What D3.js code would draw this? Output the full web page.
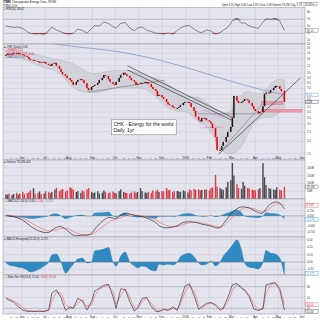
<!DOCTYPE html>
<html>
<head>
<meta charset="utf-8">
<script src="https://cdn.jsdelivr.net/npm/d3@7/dist/d3.min.js"></script>
<style>
  body { margin: 0; background: #fff; }
  svg { display: block; font-family: Arial, "Liberation Sans", sans-serif; }
</style>
</head>
<body>
<div id="chart"></div>
<script>
// closes every 2 trading days from 11-May-2015 to 9-May-2016
var closes = [15.4, 15.8, 15.4, 15.8, 16.2, 15.8, 16.2, 15.8, 15.4, 15.1, 14.7,
  14.0, 13.7, 13.7, 13.4, 13.1, 13.1, 12.8, 13.1, 12.5, 12.2,
  11.9, 12.5, 12.8, 11.9, 11.1, 10.3, 9.8, 9.4, 8.95, 8.5,
  8.15, 7.6, 8.15, 8.5, 8.7, 8.5, 7.95, 7.07, 6.7, 7.25,
  7.4, 7.6, 7.95, 8.5, 8.95, 9.6, 9.4, 8.7, 8.15, 7.8,
  7.6, 8.15, 8.95, 9.6, 10.1, 9.8, 9.4, 8.95, 8.5, 8.15,
  7.6, 7.8, 7.95, 7.95, 8.15, 8.15, 7.8, 7.25, 6.9, 6.6,
  5.85, 6.0, 5.7, 5.45, 5.08, 4.8, 4.7, 4.5, 4.4, 4.4,
  4.5, 4.7, 4.96, 5.08, 5.08, 4.96, 4.5, 4.1, 3.6, 3.3,
  3.2, 3.48, 3.48, 3.3, 3.2, 3.05, 2.75, 2.22, 1.63, 1.63,
  1.8, 1.97, 2.22, 2.5, 2.81, 3.48, 5.85, 5.2, 4.96, 5.08,
  5.2, 5.45, 5.3, 4.96, 4.6, 4.3, 4.1, 3.9, 4.0, 4.6,
  6.15, 6.3, 6.3, 6.7, 7.07, 7.4, 7.4, 6.9, 6.6, 5.08];

// volume (millions), same dates as closes
var volumes = [30, 28, 35, 25, 32, 40, 28, 35, 45, 30, 38,
  42, 55, 70, 35, 40, 48, 30, 36, 50, 44,
  38, 45, 60, 72, 50, 58, 65, 48, 55, 75,
  68, 60, 45, 50, 40, 55, 48, 62, 70, 45,
  38, 42, 50, 35, 40, 55, 45, 38, 42, 48,
  40, 36, 50, 62, 45, 40, 38, 35, 42, 48,
  40, 45, 70, 50, 42, 38, 45, 40, 55, 48,
  60, 45, 50, 48, 70, 55, 58, 45, 50, 52,
  48, 45, 55, 50, 42, 60, 55, 65, 58, 62,
  55, 58, 60, 62, 55, 70, 75, 154, 80, 70,
  62, 58, 75, 110, 120, 230, 150, 95, 70, 65,
  110, 85, 72, 68, 60, 58, 55, 62, 70, 230,
  140, 90, 70, 65, 62, 58, 75, 60, 55, 78];

// Bollinger bands, every 10 trading days
var bandUpper = [16.9, 16.9, 16.5, 15.4, 14.4, 13.7, 13.1, 11.3, 9.6, 10.3, 10.6, 10.8, 10.6, 9.4,
  8.95, 8.15, 6.4, 5.6, 5.85, 4.7, 4.0, 3.7, 6.7, 6.4, 5.85, 8.95, 8.5];
var bandLower = [14.4, 14.7, 13.7, 11.9, 11.1, 10.3, 7.4, 6.4, 6.3, 6.4, 7.07, 7.07, 7.07, 7.07,
  5.85, 4.4, 4.0, 4.2, 3.0, 2.9, 1.55, 1.45, 1.63, 3.16, 3.6, 3.48, 4.4];

// long moving average, every 20 trading days
var maLong = [23.0, 21.8, 20.4, 19.0, 18.0, 17.0, 15.6, 14.0, 12.2, 10.5, 8.9, 7.7, 6.7, 6.0];

// indicators every 4 trading days
var rsi = [51, 49, 47, 48, 44, 34, 30, 28, 29, 27, 37, 48, 39, 34, 29, 28, 30, 42, 38, 30,
  44, 52, 51, 62, 58, 49, 45, 58, 61, 45, 37, 45, 48, 39, 35, 30, 30, 28, 31, 28,
  38, 45, 51, 52, 42, 34, 32, 39, 37, 28, 32, 39, 47, 66, 72, 59, 60, 51, 47, 44,
  62, 71, 70, 72, 65, 38];
var macdLine = [0.02, 0.0, -0.03, -0.10, -0.19, -0.36, -0.50, -0.62, -0.74, -0.79,
  -0.81, -0.67, -0.53, -0.48, -0.62, -0.81, -0.93, -0.95, -0.90, -0.93,
  -0.86, -0.62, -0.38, -0.19, -0.05, -0.10, -0.15, 0.04, 0.16, 0.09,
  0.02, 0.0, -0.03, -0.10, -0.19, -0.31, -0.48, -0.57, -0.57, -0.53,
  -0.48, -0.36, -0.29, -0.27, -0.29, -0.34, -0.40, -0.43, -0.48, -0.57,
  -0.59, -0.38, -0.10, 0.18, 0.36, 0.44, 0.42, 0.39, 0.26, 0.14,
  0.09, 0.36, 0.59, 0.68, 0.64, 0.33];
var macdSignal = [0.05, 0.03, 0.01, -0.04, -0.10, -0.20, -0.32, -0.44, -0.56, -0.66,
  -0.72, -0.72, -0.66, -0.59, -0.58, -0.65, -0.75, -0.84, -0.88, -0.90,
  -0.89, -0.80, -0.64, -0.46, -0.30, -0.20, -0.17, -0.09, 0.02, 0.06,
  0.05, 0.03, 0.0, -0.04, -0.10, -0.18, -0.29, -0.41, -0.49, -0.52,
  -0.51, -0.45, -0.38, -0.32, -0.30, -0.31, -0.35, -0.39, -0.43, -0.50,
  -0.55, -0.50, -0.30, -0.05, 0.17, 0.32, 0.39, 0.40, 0.34, 0.24,
  0.16, 0.23, 0.40, 0.55, 0.61, 0.50];
var macdHist = [-0.01, -0.04, -0.055, -0.07, -0.08, -0.11, -0.135, -0.12, -0.095, -0.055,
  0.0, 0.095, 0.11, 0.0, -0.15, -0.08, -0.03, 0.04, 0.054, -0.014,
  0.0, 0.15, 0.16, 0.175, 0.2, 0.0, -0.055, 0.08, 0.135, 0.0,
  -0.055, -0.08, -0.055, -0.07, -0.11, -0.12, -0.03, -0.04, -0.03, -0.04,
  0.0, 0.07, 0.11, 0.12, 0.07, -0.014, -0.04, -0.03, 0.014, -0.055,
  0.0, 0.08, 0.15, 0.23, 0.30, 0.16, -0.014, -0.07, -0.08, -0.095,
  0.0, 0.16, 0.12, 0.11, 0.054, -0.175];
var stochK = [48, 43, 37, 25, 15, 11, 12, 11, 12, 11, 16, 62, 71, 50, 14, 24, 20, 48, 40, 15,
  40, 68, 76, 84, 87, 52, 20, 74, 72, 38, 12, 22, 47, 50, 25, 11, 11, 18, 14, 24,
  14, 40, 82, 88, 55, 17, 24, 34, 36, 28, 15, 20, 50, 85, 89, 75, 70, 52, 18, 14,
  20, 85, 89, 91, 70, 15];
var stochD = [50, 46, 41, 32, 22, 14, 12, 12, 12, 12, 13, 40, 65, 62, 30, 20, 21, 35, 44, 25,
  30, 55, 72, 80, 85, 65, 32, 55, 74, 50, 22, 18, 38, 48, 35, 16, 12, 15, 16, 19,
  18, 30, 65, 84, 68, 30, 20, 30, 35, 31, 20, 18, 38, 70, 86, 80, 72, 58, 30, 16,
  17, 62, 86, 90, 78, 30];

// hand drawn annotations: [date, price, date, price]
var darkLines = [
  ["2015-10-17", 11.9, "2016-03-03", 3.48],
  ["2015-10-17", 10.8, "2016-03-03", 3.25],
  ["2016-02-13", 1.48, "2016-05-30", 8.95]];
var greyLines = [
  ["2015-08-26", 6.4, "2015-12-05", 8.5],
  ["2016-02-17", 1.63, "2016-04-10", 4.8],
  ["2016-01-17", 3.83, "2016-04-10", 3.83]];
var pinkLines = [
  ["2016-01-24", 4.2, "2016-02-19", 3.48],
  ["2016-01-20", 2.75, "2016-02-19", 2.81]];
var zones = [
  ["2016-04-09", 4.25, "2016-06-01", 4.0],
  ["2016-04-09", 5.1, "2016-05-07", 4.8]];

var priceTicks = [20, 18, 16, 14, 12, 10, 9, 8, 7, 6, 5.5, 5, 4.5, 4, 3.5, 3, 2.5, 2, 1.5];
var rsiTicks = [90, 70, 50, 30, 10];
var volTicks = [200, 150, 100, 50];
var macdGrid = [0.5, 0.25, 0, -0.25, -0.5, -0.75];
var macdTicks = [0.5, 0.25, 0, -0.5, -0.75];
var histTicks = [0.3, 0.2, 0.1, 0, -0.1];
var stochTicks = [80, 50, 20];

var width = 320, height = 320;
var plotLeft = 3, plotRight = 305;

var svg = d3.select("#chart").append("svg")
  .attr("width", width)
  .attr("height", height);

svg.append("rect").attr("width", width).attr("height", height).attr("fill", "#fff");

var parse = d3.timeParse("%Y-%m-%d");
var x = d3.scaleTime()
  .domain([new Date(2015, 5, 1), new Date(2016, 5, 1)])
  .range([22, 302]);

function tradingDates(step, n) {
  var out = [], d = new Date(2015, 4, 11), i = 0;
  while (out.length < n) {
    var wd = d.getDay();
    if (wd != 0 && wd != 6) {
      if (i % step == 0) out.push(new Date(d));
      i++;
    }
    d.setDate(d.getDate() + 1);
  }
  return out;
}

var priceDates = tradingDates(2, closes.length);
var indDates = tradingDates(4, rsi.length);
var bandDates = tradingDates(10, bandUpper.length);
var maDates = tradingDates(20, maLong.length);

var months = d3.timeMonth.range(new Date(2015, 5, 1), new Date(2016, 5, 2));
// weekly day numbers, skipping the ones that sit on a month label
var weeks = d3.timeMonday.range(new Date(2015, 4, 11), new Date(2016, 5, 6))
  .filter(function(d){
    var near = months.some(function(m){ return Math.abs(d - m) < 4.5 * 864e5; });
    return !near && x(d) > 6;
  });

var rsiY = d3.scaleLinear().domain([0, 100]).range([43.8, 8.8]);
var priceY = d3.scaleLog().domain([1.45, 19.5]).range([155, 45]);
var volY = d3.scaleLinear().domain([0, 250]).range([199, 160]);
var macdY = d3.scaleLinear().domain([-1.0, 0.8]).range([237, 199]);
var histY = d3.scaleLinear().domain([-0.175, 0.325]).range([275, 238]);
var stochY = d3.scaleLinear().domain([0, 100]).range([315.5, 279.5]);

function makePanel(id, top, bottom) {
  svg.append("rect")
    .attr("x", plotLeft).attr("y", top)
    .attr("width", plotRight - plotLeft).attr("height", bottom - top)
    .attr("fill", "#e4e4ee");
  svg.append("clipPath").attr("id", "clip-" + id)
    .append("rect")
    .attr("x", plotLeft).attr("y", top)
    .attr("width", plotRight - plotLeft).attr("height", bottom - top);
  svg.append("g").selectAll("line")
    .data(months)
    .join("line")
    .attr("x1", function(d){ return x(d); })
    .attr("x2", function(d){ return x(d); })
    .attr("y1", top).attr("y2", bottom)
    .attr("stroke", "#c9c9d6")
    .attr("stroke-width", 0.5);
  return svg.append("g").attr("clip-path", "url(#clip-" + id + ")");
}

function frame(top, bottom) {
  svg.append("rect")
    .attr("x", plotLeft).attr("y", top)
    .attr("width", plotRight - plotLeft).attr("height", bottom - top)
    .attr("fill", "none")
    .attr("stroke", "#8d8d9a")
    .attr("stroke-width", 0.5);
}

function hGrid(g, scale, vals, color) {
  g.selectAll(null)
    .data(vals)
    .join("line")
    .attr("x1", plotLeft).attr("x2", plotRight)
    .attr("y1", function(d){ return scale(d); })
    .attr("y2", function(d){ return scale(d); })
    .attr("stroke", color)
    .attr("stroke-width", 0.5);
}

function axisLabels(scale, vals, fmt) {
  svg.append("g").selectAll("text")
    .data(vals)
    .join("text")
    .attr("x", 307)
    .attr("y", function(d){ return scale(d) + 1; })
    .attr("font-size", 2.8)
    .attr("fill", "#333")
    .text(fmt);
}

function lastBox(yPos, label, color, filled) {
  svg.append("rect")
    .attr("x", 305.6).attr("y", yPos - 1.8)
    .attr("width", 12.5).attr("height", 3.6)
    .attr("fill", filled ? color : "#fff")
    .attr("stroke", color)
    .attr("stroke-width", 0.35);
  svg.append("text")
    .attr("x", 306.5).attr("y", yPos + 1)
    .attr("font-size", 2.8)
    .attr("fill", filled ? "#fff" : color)
    .text(label);
}

function dateLabels(yPos) {
  svg.append("g").selectAll("text")
    .data(months)
    .join("text")
    .attr("x", function(d){ return x(d); })
    .attr("y", yPos)
    .attr("text-anchor", "middle")
    .attr("font-size", 3)
    .attr("fill", "#222")
    .text(function(d){ return d.getMonth() == 0 ? "2016" : d3.timeFormat("%b")(d); });
  svg.append("g").selectAll("text")
    .data(weeks)
    .join("text")
    .attr("x", function(d){ return x(d); })
    .attr("y", yPos)
    .attr("text-anchor", "middle")
    .attr("font-size", 2.4)
    .attr("fill", "#666")
    .text(function(d){ return d.getDate(); });
}

function legend(xPos, yPos, parts) {
  var t = svg.append("text").attr("x", xPos).attr("y", yPos).attr("font-size", 2.8);
  parts.forEach(function(p){
    t.append("tspan").attr("fill", p[1]).text(p[0]);
  });
}

// header
svg.append("rect").attr("x", 3).attr("y", 0.6).attr("width", 7.5).attr("height", 3.5)
  .attr("fill", "none").attr("stroke", "#444").attr("stroke-width", 0.3);
svg.append("text").attr("x", 3.7).attr("y", 3.4).attr("font-size", 3).attr("font-weight", "bold").text("CHK");
svg.append("text").attr("x", 12).attr("y", 3.4).attr("font-size", 3).attr("fill", "#222").text("Chesapeake Energy Corp.  NYSE");
svg.append("text").attr("x", 3).attr("y", 6.7).attr("font-size", 2.7).attr("fill", "#333").text("9-May-2016");
svg.append("text").attr("x", 318).attr("y", 2.6).attr("text-anchor", "end").attr("font-size", 2.5).attr("fill", "#333").text("@ StockCharts.com");
svg.append("text").attr("x", 318).attr("y", 5.9).attr("text-anchor", "end").attr("font-size", 2.7).attr("fill", "#222")
  .text("Open 6.55  High 6.60  Low 4.93  Close 5.08  Volume 78.2M  Chg -1.52 (-23.03%) \u25BC");

// RSI panel
var rsiG = makePanel("rsi", 7.5, 44);
hGrid(rsiG, rsiY, [50], "#cacad7");
hGrid(rsiG, rsiY, [70, 30], "#8f8f9e");
rsiG.append("path").datum(rsi)
  .attr("d", d3.area()
    .x(function(d, i){ return x(indDates[i]); })
    .y0(rsiY(30))
    .y1(function(d){ return rsiY(Math.min(d, 30)); }))
  .attr("fill", "#e01010");
rsiG.append("path").datum(rsi)
  .attr("d", d3.area()
    .x(function(d, i){ return x(indDates[i]); })
    .y0(rsiY(70))
    .y1(function(d){ return rsiY(Math.max(d, 70)); }))
  .attr("fill", "#111");
rsiG.append("path").datum(rsi)
  .attr("d", d3.line()
    .x(function(d, i){ return x(indDates[i]); })
    .y(function(d){ return rsiY(d); }))
  .attr("fill", "none").attr("stroke", "#333").attr("stroke-width", 0.55);
frame(7.5, 44);
axisLabels(rsiY, rsiTicks, function(d){ return d; });
lastBox(rsiY(rsi[rsi.length - 1]), rsi[rsi.length - 1].toFixed(2), "#555", false);
legend(4, 10.4, [["\u25A0 ", "#888"], ["RSI(14) 38.02", "#222"]]);

// price panel
var priceG = makePanel("price", 44, 160);
hGrid(priceG, priceY, priceTicks, "#cbcbd8");

priceG.append("path").datum(bandUpper)
  .attr("d", d3.area().curve(d3.curveBasis)
    .x(function(d, i){ return x(bandDates[i]); })
    .y0(function(d, i){ return priceY(bandLower[i]); })
    .y1(function(d){ return priceY(d); }))
  .attr("fill", "#cdcdd6")
  .attr("fill-opacity", 0.8)
  .attr("stroke", "#a9a9b6")
  .attr("stroke-width", 0.4);

priceG.append("path").datum(maLong)
  .attr("d", d3.line().curve(d3.curveBasis)
    .x(function(d, i){ return x(maDates[i]); })
    .y(function(d){ return priceY(d); }))
  .attr("fill", "none").attr("stroke", "#6d8fc4").attr("stroke-width", 0.7);

priceG.selectAll("rect.zone")
  .data(zones)
  .join("rect")
  .attr("class", "zone")
  .attr("x", function(d){ return x(parse(d[0])); })
  .attr("y", function(d){ return priceY(d[1]); })
  .attr("width", function(d){ return x(parse(d[2])) - x(parse(d[0])); })
  .attr("height", function(d){ return priceY(d[3]) - priceY(d[1]); })
  .attr("fill", "#ef8a98")
  .attr("fill-opacity", 0.75)
  .attr("stroke", "#e0506a")
  .attr("stroke-width", 0.4);

function drawLines(data, color, w, dash) {
  priceG.selectAll(null)
    .data(data)
    .join("line")
    .attr("x1", function(d){ return x(parse(d[0])); })
    .attr("y1", function(d){ return priceY(d[1]); })
    .attr("x2", function(d){ return x(parse(d[2])); })
    .attr("y2", function(d){ return priceY(d[3]); })
    .attr("stroke", color)
    .attr("stroke-width", w)
    .attr("stroke-dasharray", dash);
}
drawLines(greyLines, "#6d6d78", 0.55, null);
drawLines(darkLines, "#1e1e24", 0.6, null);
drawLines(pinkLines, "#f048c8", 0.6, "1.5,1");

priceG.append("path").datum(closes)
  .attr("d", d3.line().curve(d3.curveMonotoneX)
    .x(function(d, i){ return x(priceDates[i]); })
    .y(function(d){ return priceY(d); }))
  .attr("fill", "none").attr("stroke", "#f07070").attr("stroke-width", 0.6);

priceG.selectAll("rect.candle")
  .data(closes)
  .join("rect")
  .attr("class", "candle")
  .attr("x", function(d, i){ return x(priceDates[i]) - 0.75; })
  .attr("width", 1.5)
  .attr("y", function(d, i){
    var o = i ? closes[i - 1] : d;
    return priceY(Math.max(o, d));
  })
  .attr("height", function(d, i){
    var o = i ? closes[i - 1] : d;
    return Math.max(0.8, Math.abs(priceY(o) - priceY(d)));
  })
  .attr("fill", function(d, i){
    var o = i ? closes[i - 1] : d;
    return d < o ? "#e4000c" : "#151515";
  });

// comment box
svg.append("rect").attr("x", 111.7).attr("y", 119.8).attr("width", 64.5).attr("height", 15)
  .attr("fill", "#fff").attr("stroke", "#777").attr("stroke-width", 0.5);
svg.append("text").attr("x", 113.5).attr("y", 126).attr("font-size", 5).attr("fill", "#111")
  .text("CHK - Energy for the world");
svg.append("text").attr("x", 113.5).attr("y", 132.2).attr("font-size", 5).attr("fill", "#111")
  .text("Daily, 1yr");

frame(44, 160);
axisLabels(priceY, priceTicks, function(d){ return d < 10 ? d.toFixed(1) : d; });
lastBox(priceY(maLong[maLong.length - 1]), maLong[maLong.length - 1].toFixed(2), "#5b82bd", false);
lastBox(priceY(closes[closes.length - 1]), closes[closes.length - 1].toFixed(2), "#222", false);
dateLabels(158.6);
legend(4, 47.6, [["\u25A0 ", "#555"], ["CHK (Daily) 5.08", "#222"]]);
legend(4, 51.2, [["\u2014 EMA(8) 6.21", "#e03030"]]);
legend(4, 54.8, [["\u2014 BB(20,2.0) 8.50, 4.40", "#e03030"]]);
legend(4, 58.4, [["\u2014 MA(200) 6.00", "#4a72b0"]]);

// volume panel
var volG = makePanel("vol", 160, 199);
hGrid(volG, volY, volTicks, "#cbcbd8");
volG.selectAll("rect")
  .data(volumes)
  .join("rect")
  .attr("x", function(d, i){ return x(priceDates[i]) - 0.7; })
  .attr("width", 1.4)
  .attr("y", function(d){ return volY(d); })
  .attr("height", function(d){ return volY(0) - volY(d); })
  .attr("fill", function(d, i){
    return i && closes[i] < closes[i - 1] ? "#dd3a48" : "#4a4a4e";
  });
frame(160, 199);
axisLabels(volY, volTicks, function(d){ return d + "M"; });
lastBox(volY(volumes[volumes.length - 1]), "78.2M", "#444", false);
legend(4, 163.2, [["\u25A0 ", "#555"], ["Volume 78,239,400", "#222"]]);

// MACD panel
var macdG = makePanel("macd", 199, 237);
hGrid(macdG, macdY, macdGrid, "#cbcbd8");
macdG.append("path").datum(macdHist)
  .attr("d", d3.area().curve(d3.curveMonotoneX)
    .x(function(d, i){ return x(indDates[i]); })
    .y0(macdY(0))
    .y1(function(d){ return macdY(d); }))
  .attr("fill", "#3790c4");
macdG.append("line").attr("x1", plotLeft).attr("x2", plotRight)
  .attr("y1", macdY(0)).attr("y2", macdY(0)).attr("stroke", "#777").attr("stroke-width", 0.4);
macdG.append("path").datum(macdSignal)
  .attr("d", d3.line().curve(d3.curveBasis)
    .x(function(d, i){ return x(indDates[i]); })
    .y(function(d){ return macdY(d); }))
  .attr("fill", "none").attr("stroke", "#ee6a6a").attr("stroke-width", 0.65);
macdG.append("path").datum(macdLine)
  .attr("d", d3.line().curve(d3.curveBasis)
    .x(function(d, i){ return x(indDates[i]); })
    .y(function(d){ return macdY(d); }))
  .attr("fill", "none").attr("stroke", "#222").attr("stroke-width", 0.65);
frame(199, 237);
axisLabels(macdY, macdTicks, function(d){ return d.toFixed(3); });
lastBox(macdY(macdSignal[macdSignal.length - 1]), "0.500", "#e03030", false);
lastBox(macdY(macdHist[macdHist.length - 1]), "-0.175", "#2f86bd", false);
legend(4, 202.2, [["\u2014 MACD(12,26,9) 0.330, ", "#222"], ["0.500, ", "#e03030"], ["-0.175", "#2f86bd"]]);

// histogram panel
var histG = makePanel("hist", 237, 275);
hGrid(histG, histY, histTicks, "#cbcbd8");
histG.append("path").datum(macdHist)
  .attr("d", d3.area().curve(d3.curveMonotoneX)
    .x(function(d, i){ return x(indDates[i]); })
    .y0(histY(0))
    .y1(function(d){ return histY(d); }))
  .attr("fill", "#2f8ac2")
  .attr("stroke", "#1f6a9a")
  .attr("stroke-width", 0.3);
histG.append("line").attr("x1", plotLeft).attr("x2", plotRight)
  .attr("y1", histY(0)).attr("y2", histY(0)).attr("stroke", "#888").attr("stroke-width", 0.4);
frame(237, 275);
axisLabels(histY, histTicks, function(d){ return d.toFixed(2); });
lastBox(histY(macdHist[macdHist.length - 1]) - 1.5, "-0.175", "#2f86bd", false);
legend(4, 240.2, [["\u25A0 ", "#2f86bd"], ["MACD Histogram(12,26,9) -0.175", "#222"]]);

// stochastics panel
var stochG = makePanel("stoch", 275, 314);
hGrid(stochG, stochY, [50], "#cacad7");
hGrid(stochG, stochY, [80, 20], "#9494a3");
stochG.append("path").datum(stochD)
  .attr("d", d3.line()
    .x(function(d, i){ return x(indDates[i]); })
    .y(function(d){ return stochY(d); }))
  .attr("fill", "none").attr("stroke", "#ee6a6a").attr("stroke-width", 0.65);
stochG.append("path").datum(stochK)
  .attr("d", d3.line()
    .x(function(d, i){ return x(indDates[i]); })
    .y(function(d){ return stochY(d); }))
  .attr("fill", "none").attr("stroke", "#222").attr("stroke-width", 0.6);
frame(275, 314);
axisLabels(stochY, stochTicks, function(d){ return d; });
lastBox(stochY(stochD[stochD.length - 1]), "30.00", "#e03030", false);
lastBox(stochY(stochK[stochK.length - 1]) + 1.5, "15.00", "#222", false);
legend(4, 278.2, [["\u2014 Slow Sto %K(14,3) 15.00, ", "#222"], ["%D(3) 30.00", "#e03030"]]);
dateLabels(318.4);
</script>
</body>
</html>
